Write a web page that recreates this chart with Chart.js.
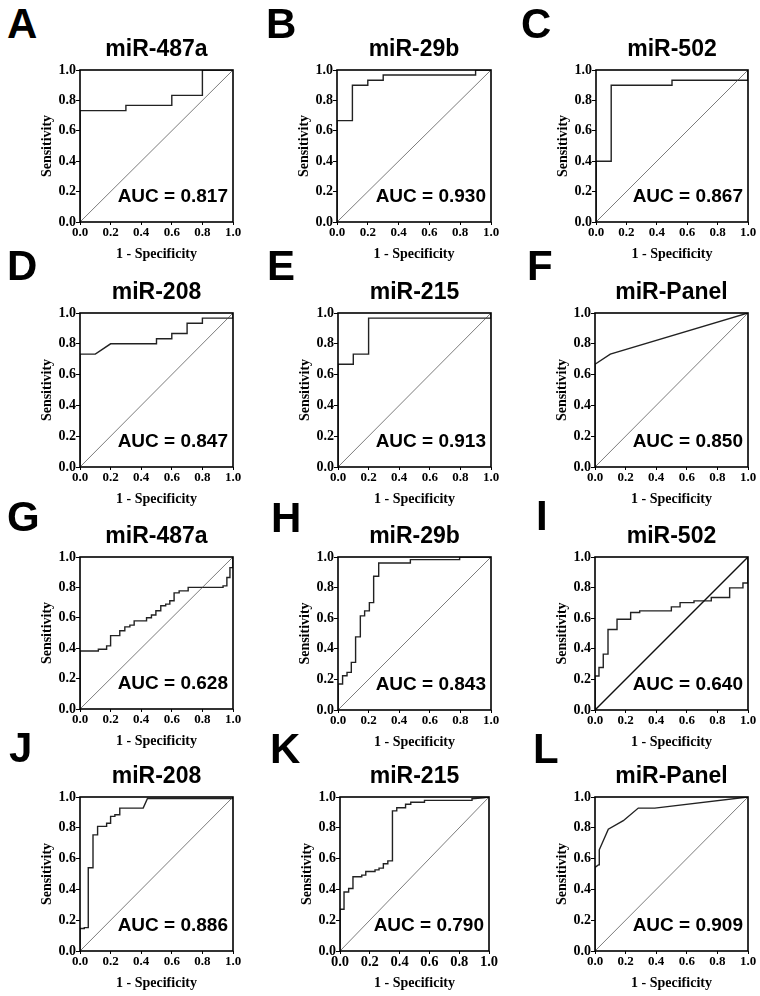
<!DOCTYPE html>
<html><head><meta charset="utf-8">
<script src="https://cdn.jsdelivr.net/npm/chart.js@4.4.1/dist/chart.umd.min.js"></script>
<style>
html,body{margin:0;padding:0;background:#fff;width:760px;height:996px;overflow:hidden;position:relative}
canvas{position:absolute}
.letter{position:absolute;font-family:'Liberation Sans',Arial,sans-serif;font-weight:bold;font-size:42px;line-height:42px;color:#000}
</style></head><body>
<script>
// ---------- data ----------
const panelLetters = ['A','B','C','D','E','F','G','H','I','J','K','L'];
const panelTitles = ['miR-487a','miR-29b','miR-502','miR-208','miR-215','miR-Panel',
                     'miR-487a','miR-29b','miR-502','miR-208','miR-215','miR-Panel'];
const aucLabels = ['0.817','0.930','0.867','0.847','0.913','0.850',
                   '0.628','0.843','0.640','0.886','0.790','0.909'];
const tickValues = [0, 0.2, 0.4, 0.6, 0.8, 1.0];
const xAxisTitle = '1 - Specificity';
const yAxisTitle = 'Sensitivity';

const fprA = [0,0,0.3,0.3,0.6,0.6,0.8,0.8,1];
const tprA = [0,0.733,0.733,0.767,0.767,0.833,0.833,1,1];
const fprB = [0,0,0.1,0.1,0.2,0.2,0.3,0.3,0.9,0.9,1];
const tprB = [0,0.667,0.667,0.9,0.9,0.933,0.933,0.967,0.967,1,1];
const fprC = [0,0,0.1,0.1,0.5,0.5,1,1];
const tprC = [0,0.4,0.4,0.9,0.9,0.933,0.933,1];
const fprD = [0,0,0.1,0.2,0.5,0.5,0.6,0.6,0.7,0.7,0.8,0.8,1,1];
const tprD = [0,0.733,0.733,0.8,0.8,0.833,0.833,0.867,0.867,0.933,0.933,0.967,0.967,1];
const fprE = [0,0,0.1,0.1,0.2,0.2,1,1];
const tprE = [0,0.667,0.667,0.733,0.733,0.967,0.967,1];
const fprF = [0,0,0.1,1];
const tprF = [0,0.667,0.733,1];
const fprG = [0,0,0.12,0.12,0.174,0.174,0.2,0.2,0.26,0.26,0.293,0.293,0.326,0.326,0.354,0.354,0.435,0.435,0.467,0.467,0.496,0.496,0.528,0.528,0.56,0.56,0.587,0.587,0.615,0.615,0.648,0.648,0.707,0.707,0.935,0.935,0.96,0.96,0.98,0.98,1,1];
const tprG = [0,0.382,0.382,0.393,0.393,0.415,0.415,0.483,0.483,0.515,0.515,0.54,0.54,0.552,0.552,0.58,0.58,0.6,0.6,0.618,0.618,0.646,0.646,0.679,0.679,0.69,0.69,0.712,0.712,0.764,0.764,0.777,0.777,0.8,0.8,0.81,0.81,0.865,0.865,0.93,0.93,1];
const fprH = [0,0,0.03,0.03,0.059,0.059,0.087,0.087,0.115,0.115,0.146,0.146,0.174,0.174,0.205,0.205,0.233,0.233,0.266,0.266,0.473,0.473,0.795,0.795,1];
const tprH = [0,0.17,0.17,0.224,0.224,0.246,0.246,0.311,0.311,0.478,0.478,0.615,0.615,0.648,0.648,0.702,0.702,0.874,0.874,0.961,0.961,0.983,0.983,1,1];
const fprI = [0,0,0.026,0.026,0.054,0.054,0.085,0.085,0.144,0.144,0.233,0.233,0.292,0.292,0.499,0.499,0.556,0.556,0.647,0.647,0.76,0.76,0.88,0.88,0.967,0.967,1,1];
const tprI = [0,0.222,0.222,0.278,0.278,0.365,0.365,0.526,0.526,0.593,0.593,0.637,0.637,0.648,0.648,0.674,0.674,0.702,0.702,0.713,0.713,0.735,0.735,0.798,0.798,0.83,0.83,1];
const fprJ = [0,0,0.028,0.028,0.054,0.054,0.085,0.085,0.115,0.115,0.174,0.174,0.2,0.2,0.228,0.228,0.26,0.26,0.413,0.441,1,1];
const tprJ = [0,0.146,0.146,0.152,0.152,0.541,0.541,0.754,0.754,0.809,0.809,0.83,0.83,0.874,0.874,0.885,0.885,0.928,0.928,0.99,0.99,1];
const fprK = [0,0,0.027,0.027,0.058,0.058,0.087,0.087,0.146,0.146,0.173,0.173,0.235,0.235,0.262,0.262,0.291,0.291,0.321,0.321,0.352,0.352,0.381,0.381,0.44,0.44,0.475,0.475,0.567,0.567,0.886,0.886,0.964,1];
const tprK = [0,0.271,0.271,0.383,0.383,0.406,0.406,0.482,0.482,0.493,0.493,0.516,0.516,0.527,0.527,0.538,0.538,0.567,0.567,0.585,0.585,0.91,0.91,0.93,0.93,0.953,0.953,0.966,0.966,0.978,0.978,0.989,0.995,1];
const fprL = [0,0,0.022,0.028,0.028,0.087,0.185,0.283,0.391,1];
const tprL = [0,0.543,0.559,0.559,0.657,0.791,0.846,0.928,0.928,1];
const diagonalX = [0, 1];
const diagonalY = [0, 1];

const curvesFpr = [fprA,fprB,fprC,fprD,fprE,fprF,fprG,fprH,fprI,fprJ,fprK,fprL];
const curvesTpr = [tprA,tprB,tprC,tprD,tprE,tprF,tprG,tprH,tprI,tprJ,tprK,tprL];

// ---------- layout (positions/sizes/styles) ----------
const layout = [
  {pl:80, pt:70, pw:153, ph:152, lx:7,   ly:8},
  {pl:337,pt:70, pw:154, ph:152, lx:266, ly:8},
  {pl:596,pt:70, pw:152, ph:152, lx:521, ly:8},
  {pl:80, pt:313,pw:153, ph:154, lx:7,   ly:250},
  {pl:338,pt:313,pw:153, ph:154, lx:267, ly:250},
  {pl:595,pt:313,pw:153, ph:154, lx:527, ly:250},
  {pl:80, pt:557,pw:153, ph:152, lx:7,   ly:501},
  {pl:338,pt:557,pw:153, ph:153, lx:271, ly:502},
  {pl:595,pt:557,pw:153, ph:153, lx:536, ly:500},
  {pl:80, pt:797,pw:153, ph:154, lx:9,   ly:732},
  {pl:340,pt:797,pw:149, ph:154, lx:270, ly:733},
  {pl:595,pt:797,pw:153, ph:154, lx:533, ly:733}
];
const Y_AXIS_W = 44, X_AXIS_H = 45, TITLE_LH = 27, TITLE_PB = 7;
const TITLE_H = TITLE_LH + TITLE_PB;
const serif = "'Liberation Serif','Times New Roman',serif";
const sans = "'Liberation Sans',Arial,sans-serif";

const rocFrame = {
  id: 'rocFrame',
  afterDatasetsDraw(chart, args, opts) {
    const {ctx, chartArea: a} = chart;
    ctx.save();
    ctx.strokeStyle = '#000';
    ctx.lineWidth = 1.6;
    ctx.strokeRect(a.left, a.top, a.right - a.left, a.bottom - a.top);
    ctx.font = 'bold 19px ' + sans;
    ctx.fillStyle = '#000';
    ctx.textAlign = 'right';
    ctx.textBaseline = 'alphabetic';
    ctx.fillText('AUC = ' + opts.auc, a.right - 5, a.bottom - 20);
    ctx.restore();
  }
};

layout.forEach((L, i) => {
  const letter = document.createElement('div');
  letter.className = 'letter';
  letter.textContent = panelLetters[i];
  letter.style.left = L.lx + 'px';
  letter.style.top = (L.ly - 5.5) + 'px';
  document.body.appendChild(letter);

  const cv = document.createElement('canvas');
  const W = Y_AXIS_W + L.pw + Y_AXIS_W;
  const H = TITLE_H + L.ph + X_AXIS_H;
  cv.width = W; cv.height = H;
  cv.style.width = W + 'px'; cv.style.height = H + 'px';
  cv.style.left = (L.pl - Y_AXIS_W) + 'px';
  cv.style.top = (L.pt - TITLE_H) + 'px';
  document.body.appendChild(cv);

  const curve = curvesFpr[i].map((x, k) => ({x, y: curvesTpr[i][k]}));
  const diag = diagonalX.map((x, k) => ({x, y: diagonalY[k]}));
  const boldDiag = (i === 8);

  new Chart(cv, {
    type: 'scatter',
    data: {
      datasets: [
        {data: diag, showLine: true, borderColor: boldDiag ? '#111' : '#444',
         borderWidth: boldDiag ? 1.4 : 0.7, pointRadius: 0, tension: 0},
        {data: curve, showLine: true, borderColor: '#222', borderWidth: 1.4,
         pointRadius: 0, tension: 0}
      ]
    },
    options: {
      responsive: false,
      animation: false,
      devicePixelRatio: 1,
      layout: {padding: 0},
      plugins: {
        legend: {display: false},
        tooltip: {enabled: false},
        title: {display: true, text: panelTitles[i], color: '#000',
                font: {family: sans, size: 23, weight: 'bold', lineHeight: TITLE_LH + 'px'},
                padding: {top: 0, bottom: TITLE_PB}},
        rocFrame: {auc: aucLabels[i]}
      },
      scales: {
        x: {
          type: 'linear', min: 0, max: 1,
          afterBuildTicks: s => { s.ticks = tickValues.map(v => ({value: v})); },
          afterFit: s => { s.height = X_AXIS_H; },
          ticks: {color: '#000', padding: 0, maxRotation: 0, autoSkip: false,
                  font: {family: serif, size: i === 10 ? 14.5 : 13, weight: 'bold'},
                  callback: v => Number(v).toFixed(1)},
          grid: {display: true, drawOnChartArea: false, drawTicks: true, tickLength: 3, color: '#000', lineWidth: 1},
          border: {display: false},
          title: {display: true, text: xAxisTitle, color: '#000',
                  font: {family: serif, size: 14, weight: 'bold'}, padding: {top: 0, bottom: 4}}
        },
        y: {
          type: 'linear', min: 0, max: 1,
          afterBuildTicks: s => { s.ticks = tickValues.map(v => ({value: v})); },
          afterFit: s => { s.width = Y_AXIS_W; },
          ticks: {color: '#000', padding: 0, autoSkip: false,
                  font: {family: serif, size: 14, weight: 'bold'},
                  callback: v => Number(v).toFixed(1)},
          grid: {display: true, drawOnChartArea: false, drawTicks: true, tickLength: 4, color: '#000', lineWidth: 1},
          border: {display: false},
          title: {display: true, text: yAxisTitle, color: '#000',
                  font: {family: serif, size: 14, weight: 'bold'}, padding: {top: 3, bottom: 0}}
        },
        y2: {
          type: 'linear', position: 'right', display: true, min: 0, max: 1,
          afterFit: s => { s.width = Y_AXIS_W; },
          ticks: {display: false},
          grid: {display: false},
          border: {display: false},
          title: {display: false}
        }
      }
    },
    plugins: [rocFrame]
  });
});
</script>
</body></html>
